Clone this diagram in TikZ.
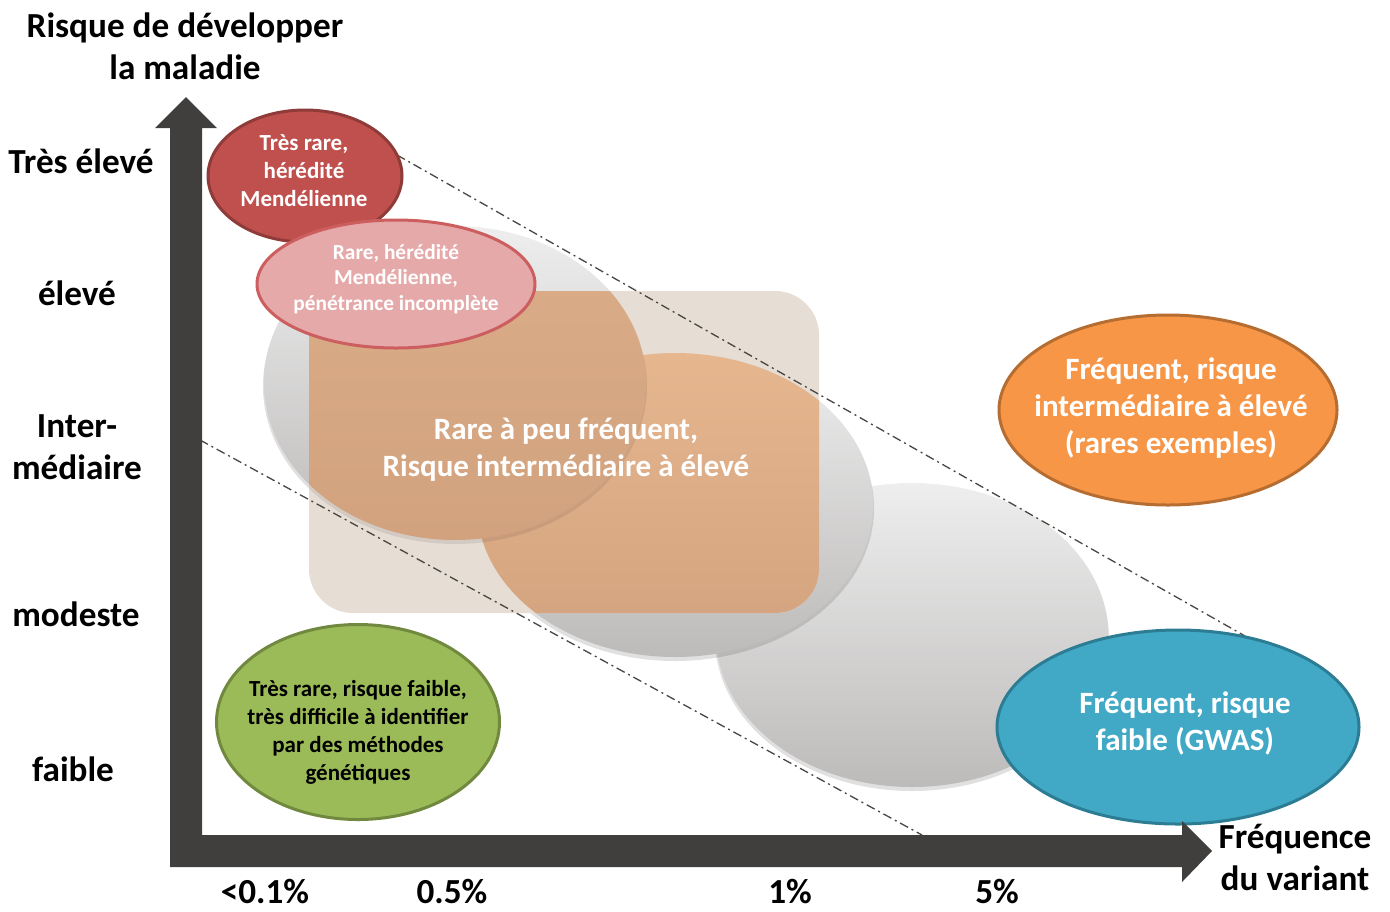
\documentclass[tikz,border=0pt]{standalone}
\usepackage{fontspec}
\setmainfont{Carlito}
\usetikzlibrary{shapes.geometric}
\definecolor{axisgray}{HTML}{403F3D}
\definecolor{grayTop}{HTML}{EEEEEE}
\definecolor{grayBot}{HTML}{BDBBBA}
\definecolor{beige}{HTML}{E6DDD4}
\definecolor{tanTop}{HTML}{E6B68F}
\definecolor{tanBot}{HTML}{D2A27E}
\definecolor{redFill}{HTML}{C0504D}
\definecolor{redLine}{HTML}{8E3B39}
\definecolor{pinkFill}{HTML}{E6A9AA}
\definecolor{pinkLine}{HTML}{CC5E60}
\definecolor{greenFill}{HTML}{9BBB59}
\definecolor{greenLine}{HTML}{71893F}
\definecolor{orangeFill}{HTML}{F79646}
\definecolor{orangeLine}{HTML}{B66D31}
\definecolor{blueFill}{HTML}{41A9C6}
\definecolor{blueLine}{HTML}{2C7C94}
\definecolor{dashgray}{HTML}{4A4540}
\tikzset{
  blob/.style={ellipse, line width=1.5pt, inner sep=0pt},
  axislabel/.style={font=\fontsize{17.6}{21}\selectfont\bfseries, text=black, align=center, inner sep=0pt},
  bigtxt/.style={font=\fontsize{15.5}{18.5}\selectfont\bfseries, text=white, align=center, inner sep=0pt},
  smalltxt/.style={font=\fontsize{11.5}{14}\selectfont\bfseries, align=center, inner sep=0pt},
  pinktxt/.style={font=\fontsize{10.7}{12.8}\selectfont\bfseries, text=white, align=center, inner sep=0pt},
  dashdotline/.style={dashgray, line width=0.65pt, dash pattern=on 4.5pt off 2pt on 1pt off 2pt},
  softshadow/.style={fill=black, opacity=0.12}
}
\begin{document}
\begin{tikzpicture}[x=0.5pt,y=-0.5pt]
\useasboundingbox (0,0) rectangle (1390,911);

% grey ellipses (back to front: 3, 2, 1)
\fill[softshadow] (912,638) ellipse [x radius=197, y radius=153];
\shade[top color=grayTop,bottom color=grayBot] (912,635) ellipse [x radius=196, y radius=152];
\fill[softshadow] (675,508) ellipse [x radius=199, y radius=153];
\shade[top color=grayTop,bottom color=grayBot] (675,505) ellipse [x radius=198, y radius=152];
\fill[softshadow] (455,386) ellipse [x radius=192, y radius=158];
\shade[top color=grayTop,bottom color=grayBot] (455,383) ellipse [x radius=191, y radius=157];

% rounded rectangle with tan overlap
\fill[beige, rounded corners=22pt] (309,291) rectangle (819,613);
\begin{scope}
  \clip[rounded corners=22pt] (309,291) rectangle (819,613);
  \shade[top color=tanTop,bottom color=tanBot] (675,505) ellipse [x radius=198, y radius=152];
  \fill[black, opacity=0.08] (455,386) ellipse [x radius=192, y radius=158];
  \shade[top color=tanTop!95!black,bottom color=tanBot] (455,383) ellipse [x radius=191, y radius=157];
\end{scope}

% dash-dotted boundary lines
\coordinate (upA) at (397,155);
\coordinate (upB) at (1245,636);
\coordinate (loA) at (200,440);
\coordinate (loB) at (922,835);
\draw[dashdotline] (upA) -- (upB);
\draw[dashdotline] (loA) -- (loB);

% central text
\node[bigtxt] (centre) at (566,450) {Rare à peu fréquent,\\Risque intermédiaire à élevé};

% coloured ellipses
\node[blob, fill=redFill, draw=redLine, minimum width=97pt, minimum height=66pt] (tresrare) at (305,176) {};
\node[smalltxt, text=white] (tresraretxt) at (304,171) {Très rare,\\hérédité\\Mendélienne};
\node[blob, fill=pinkFill, draw=pinkLine, minimum width=139pt, minimum height=64pt] (rare) at (396,284) {};
\node[pinktxt] (raretxt) at (396,279) {Rare, hérédité\\Mendélienne,\\pénétrance incomplète};
\node[blob, fill=greenFill, draw=greenLine, minimum width=141.5pt, minimum height=97.5pt] (faible) at (358,722) {};
\node[smalltxt, text=black] (faibletxt) at (358,732) {Très rare, risque faible,\\très difficile à identifier\\par des méthodes\\génétiques};
\node[blob, fill=orangeFill, draw=orangeLine, minimum width=169pt, minimum height=95pt] (freqhaut) at (1168,410) {};
\node[bigtxt] (freqhauttxt) at (1171,408) {Fréquent, risque\\intermédiaire à élevé\\(rares exemples)};
\node[blob, fill=blueFill, draw=blueLine, minimum width=181pt, minimum height=97pt] (gwas) at (1178,727) {};
\node[bigtxt] (gwastxt) at (1185,723) {Fréquent, risque\\faible (GWAS)};

% axes
\fill[axisgray] (170,867) -- (170,128) -- (155,128) -- (186,97) -- (217,128) -- (202,128)
  -- (202,835) -- (1182,835) -- (1182,821) -- (1212,851) -- (1182,882) -- (1182,867) -- cycle;

% axis labels
\node[axislabel] (ytitle) at (185,46) {Risque de développer\\la maladie};
\node[axislabel] (l1) at (81,161) {Très élevé};
\node[axislabel] (l2) at (77,293) {élevé};
\node[axislabel] (l3) at (77,447) {Inter-\\médiaire};
\node[axislabel] (l4) at (76,614) {modeste};
\node[axislabel] (l5) at (73,769) {faible};
\node[axislabel] (xtitle) at (1295,857) {Fréquence\\du variant};
\node[axislabel] (f1) at (265,891) {<0.1\%};
\node[axislabel] (f2) at (452,891) {0.5\%};
\node[axislabel] (f3) at (790,891) {1\%};
\node[axislabel] (f4) at (997,891) {5\%};
\end{tikzpicture}
\end{document}
